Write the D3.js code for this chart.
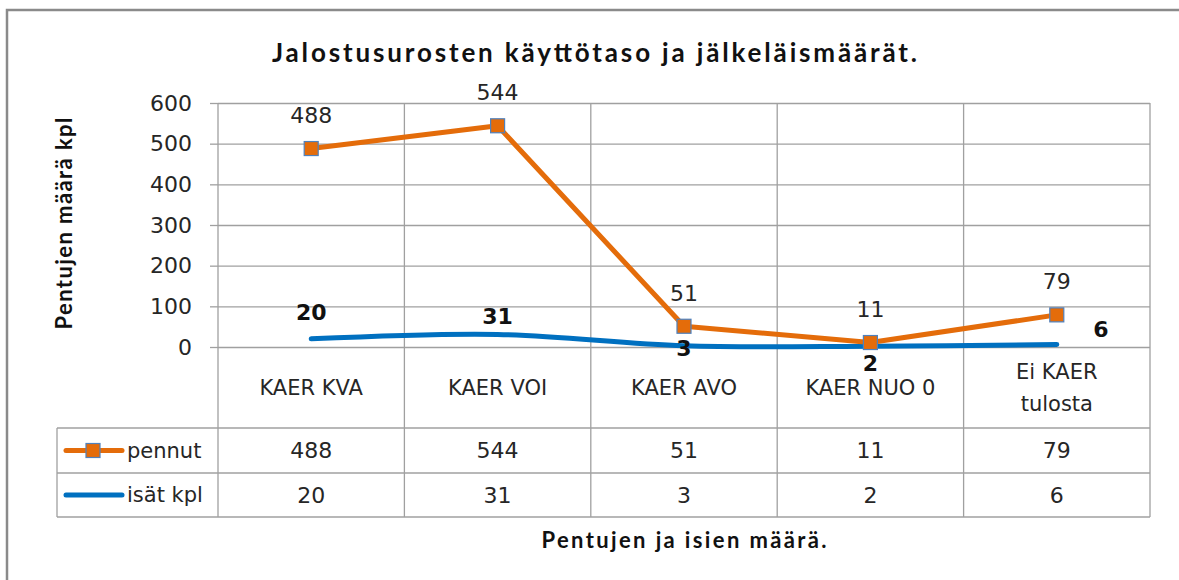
<!DOCTYPE html>
<html><head><meta charset="utf-8">
<script src="https://cdn.jsdelivr.net/npm/d3@7"></script>
<style>body{margin:0;background:#fff} svg{display:block}</style>
</head><body><svg id="c" width="1179" height="580"></svg>
<script>
const categories = ["KAER KVA","KAER VOI","KAER AVO","KAER NUO 0","Ei KAER\ntulosta"];
const pennut = [488,544,51,11,79];
const isat = [20,31,3,2,6];
const yTicks = [0,100,200,300,400,500,600];
const seriesNames = ["pennut","isät kpl"];
const titleText = "Jalostusurosten käyttötaso ja jälkeläismäärät.";
const yTitleText = "Pentujen määrä kpl";
const xTitleText = "Pentujen ja isien määrä.";

const FONT = "'DejaVu Sans', sans-serif";
const TFONT = "Lato, 'DejaVu Sans', sans-serif";
const ORANGE = "#E46C0A", BLUE = "#0070C0", GRID = "#a0a0a0", TXT = "#262626";
const svg = d3.select("#c");
const L = 218, R = 1150, T = 103, B = 347;
const row1 = 428, row2 = 473, row3 = 517, tableLeft = 57;
const x = d3.scaleBand().domain(categories).range([L, R]);
const y = d3.scaleLinear().domain([0, 600]).range([B, T]);
const cx = i => x(categories[i]) + x.bandwidth() / 2;

// outer border
svg.append("rect").attr("x", 7).attr("y", 10).attr("width", 1220).attr("height", 620)
  .attr("fill", "none").attr("stroke", "#8a8a8a").attr("stroke-width", 2.5);

// title
svg.append("text").attr("x", 594.5).attr("y", 62).attr("text-anchor", "middle")
  .attr("font-family", TFONT).attr("font-weight", "bold")
  .attr("font-size", 26).attr("fill", "#111").attr("textLength", 645).attr("lengthAdjust", "spacing")
  .text(titleText);

// gridlines
svg.append("g").attr("transform", `translate(${L},0)`)
  .call(d3.axisLeft(y).tickValues(yTicks).tickSize(-(R - L)).tickFormat(""))
  .call(g => g.select(".domain").remove())
  .call(g => g.selectAll("line").attr("stroke", GRID).attr("stroke-width", 1.3));
// tick marks + labels
svg.append("g").attr("transform", `translate(${L},0)`)
  .call(d3.axisLeft(y).tickValues(yTicks).tickSize(8).tickPadding(18))
  .call(g => g.select(".domain").remove())
  .call(g => g.selectAll("line").attr("stroke", GRID).attr("stroke-width", 1.3))
  .call(g => g.selectAll("text").attr("font-family", FONT).attr("font-size", 22).attr("fill", TXT));

// vertical lines (category boundaries + right edge)
const vx = categories.map(c => x(c)).concat([R]);
svg.append("g").selectAll("line").data(vx).join("line")
  .attr("x1", d => d).attr("x2", d => d).attr("y1", T).attr("y2", row3)
  .attr("stroke", GRID).attr("stroke-width", 1.3);
// table horizontal lines
svg.append("g").selectAll("line").data([row1, row2, row3]).join("line")
  .attr("x1", tableLeft).attr("x2", R).attr("y1", d => d).attr("y2", d => d)
  .attr("stroke", GRID).attr("stroke-width", 1.3);
svg.append("line").attr("x1", tableLeft).attr("x2", tableLeft).attr("y1", row1).attr("y2", row3)
  .attr("stroke", GRID).attr("stroke-width", 1.3);

// y title
svg.append("text").attr("transform", "translate(72,223.5) rotate(-90)")
  .attr("text-anchor", "middle")
  .attr("font-family", TFONT).attr("font-weight", "bold").attr("font-size", 22).attr("fill", "#111")
  .attr("textLength", 212).attr("lengthAdjust", "spacing")
  .text(yTitleText);

// x title
svg.append("text").attr("x", 684).attr("y", 548).attr("text-anchor", "middle")
  .attr("font-family", TFONT).attr("font-weight", "bold")
  .attr("font-size", 22).attr("fill", "#111").attr("textLength", 285).attr("lengthAdjust", "spacing")
  .text(xTitleText);

// category labels
categories.forEach((c, i) => {
  const lines = c.split("\n");
  const t = svg.append("text").attr("text-anchor", "middle").attr("font-family", FONT)
    .attr("font-size", 21).attr("fill", TXT);
  lines.forEach((ln, j) => {
    t.append("tspan").attr("x", cx(i)).attr("y", 388 + (j - (lines.length - 1) / 2) * 32)
      .attr("dominant-baseline", "central").text(ln);
  });
});

// table values
[pennut, isat].forEach((arr, r) => {
  svg.append("g").selectAll("text").data(arr).join("text")
    .attr("x", (d, i) => cx(i)).attr("y", r === 0 ? 450.5 : 495)
    .attr("text-anchor", "middle").attr("dominant-baseline", "central")
    .attr("font-family", FONT).attr("font-size", 22).attr("fill", TXT).text(d => d);
});

// legend
[ORANGE, BLUE].forEach((col, r) => {
  const ly = r === 0 ? 450.5 : 495;
  svg.append("line").attr("x1", 66).attr("x2", 122).attr("y1", ly).attr("y2", ly)
    .attr("stroke", col).attr("stroke-width", 5).attr("stroke-linecap", "round");
  if (r === 0) svg.append("rect").attr("x", 93 - 7).attr("y", ly - 7).attr("width", 14).attr("height", 14)
    .attr("fill", ORANGE).attr("stroke", "#4F81BD").attr("stroke-width", 1.2);
  svg.append("text").attr("x", 127).attr("y", ly).attr("dominant-baseline", "central")
    .attr("font-family", FONT).attr("font-size", 21).attr("fill", TXT).text(seriesNames[r]);
});

// lines
const lineP = d3.line().x((d, i) => cx(i)).y(d => y(d));
const lineI = d3.line().x((d, i) => cx(i)).y(d => y(d)).curve(d3.curveCatmullRom);
svg.append("path").attr("d", lineI(isat)).attr("fill", "none").attr("stroke", BLUE)
  .attr("stroke-width", 5).attr("stroke-linecap", "round");
svg.append("path").attr("d", lineP(pennut)).attr("fill", "none").attr("stroke", ORANGE)
  .attr("stroke-width", 5).attr("stroke-linejoin", "round");
svg.append("g").selectAll("rect").data(pennut).join("rect")
  .attr("x", (d, i) => cx(i) - 7).attr("y", d => y(d) - 7).attr("width", 14).attr("height", 14)
  .attr("fill", ORANGE).attr("stroke", "#4F81BD").attr("stroke-width", 1.2);

// data labels
svg.append("g").selectAll("text").data(pennut).join("text")
  .attr("x", (d, i) => cx(i)).attr("y", d => y(d) - 33)
  .attr("text-anchor", "middle").attr("dominant-baseline", "central")
  .attr("font-family", FONT).attr("font-size", 22).attr("fill", TXT).text(d => d);
const isatLabelOffset = [[0, -26], [0, -18], [0, 3], [0, 17], [44, -15]];
svg.append("g").selectAll("text").data(isat).join("text")
  .attr("x", (d, i) => cx(i) + isatLabelOffset[i][0]).attr("y", (d, i) => y(d) + isatLabelOffset[i][1])
  .attr("text-anchor", "middle").attr("dominant-baseline", "central")
  .attr("font-family", FONT).attr("font-weight", "bold").attr("font-size", 22).attr("fill", "#111").text(d => d);
</script></body></html>
